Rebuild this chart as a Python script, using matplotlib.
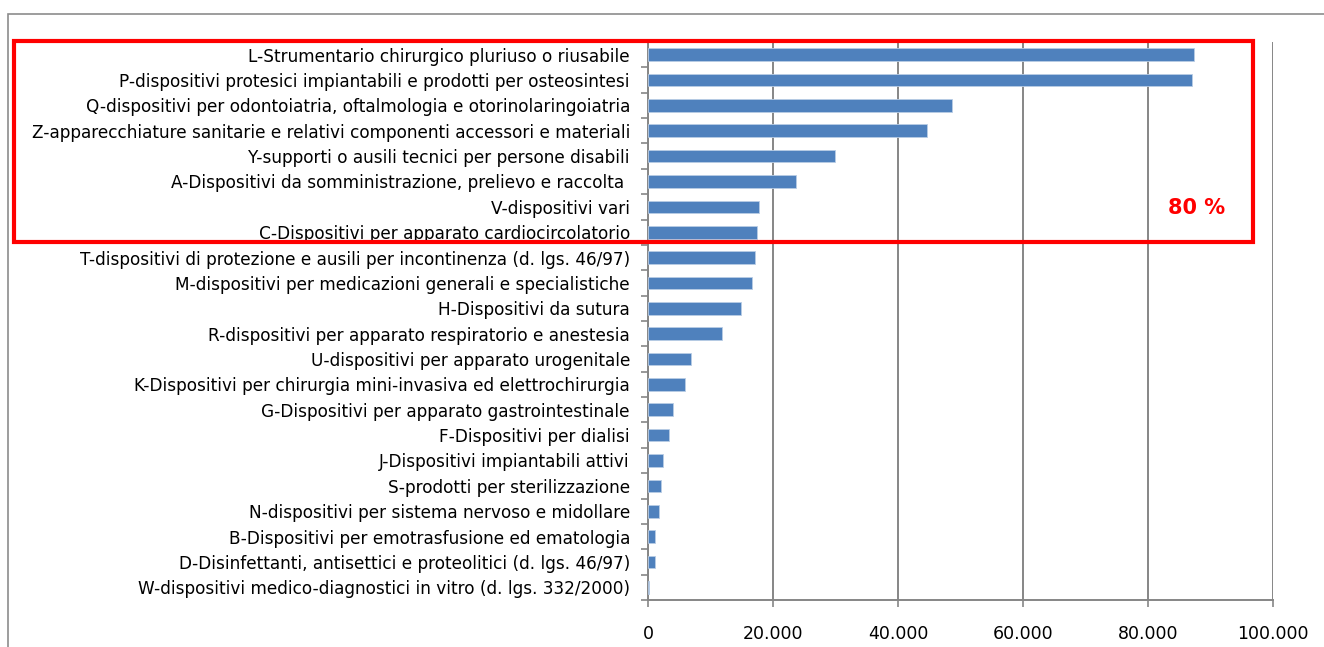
import matplotlib
matplotlib.use("Agg")
import matplotlib.pyplot as plt
from matplotlib.patches import Rectangle
from matplotlib.ticker import FuncFormatter, FixedLocator
import numpy as np

categories = [
    "L-Strumentario chirurgico pluriuso o riusabile",
    "P-dispositivi protesici impiantabili e prodotti per osteosintesi",
    "Q-dispositivi per odontoiatria, oftalmologia e otorinolaringoiatria",
    "Z-apparecchiature sanitarie e relativi componenti accessori e materiali",
    "Y-supporti o ausili tecnici per persone disabili",
    "A-Dispositivi da somministrazione, prelievo e raccolta ",
    "V-dispositivi vari",
    "C-Dispositivi per apparato cardiocircolatorio",
    "T-dispositivi di protezione e ausili per incontinenza (d. lgs. 46/97)",
    "M-dispositivi per medicazioni generali e specialistiche",
    "H-Dispositivi da sutura",
    "R-dispositivi per apparato respiratorio e anestesia",
    "U-dispositivi per apparato urogenitale",
    "K-Dispositivi per chirurgia mini-invasiva ed elettrochirurgia",
    "G-Dispositivi per apparato gastrointestinale",
    "F-Dispositivi per dialisi",
    "J-Dispositivi impiantabili attivi",
    "S-prodotti per sterilizzazione",
    "N-dispositivi per sistema nervoso e midollare",
    "B-Dispositivi per emotrasfusione ed ematologia",
    "D-Disinfettanti, antisettici e proteolitici (d. lgs. 46/97)",
    "W-dispositivi medico-diagnostici in vitro (d. lgs. 332/2000)",
]
values = [87300, 87000, 48600, 44700, 29900, 23600, 17800, 17500, 17100, 16600,
          14800, 11900, 6800, 5900, 4000, 3400, 2400, 2100, 1800, 1100, 1100, 100]
x_ticks = [0, 20000, 40000, 60000, 80000, 100000]
highlight_label = "80 %"

W, H = 1324, 647
plt.rcParams['font.family'] = ['DejaVu Sans']
fig = plt.figure(figsize=(W / 100, H / 100), dpi=100)

# outer chart frame
fig.patches.append(Rectangle((8 / W, -0.1), 2.0, (H - 14) / H + 0.1, transform=fig.transFigure,
                             fill=False, edgecolor='#8c8c8c', linewidth=1.2))

ax = fig.add_axes([648 / W, 1 - 600 / H, (1273 - 648) / W, (600 - 42) / H])
y = np.arange(len(categories))
ax.barh(y, values, height=0.5, color='#4F81BD', edgecolor='#B9CDE5', linewidth=0.6, zorder=3)
ax.set_ylim(len(categories) - 0.5, -0.5)
ax.set_xlim(0, 100000)
ax.set_yticks(y)
ax.set_yticklabels(categories, fontsize=12.2)
ax.yaxis.set_minor_locator(FixedLocator(np.arange(len(categories) + 1) - 0.5))
ax.tick_params(axis='y', which='major', length=0, pad=13)
ax.tick_params(axis='y', which='minor', length=5, color='#868686', width=1.2)
ax.set_xticks(x_ticks)
ax.xaxis.set_major_formatter(FuncFormatter(lambda v, p: f"{int(v):,}".replace(",", ".")))
ax.tick_params(axis='x', which='major', length=5, color='#868686', width=1.2, pad=13, labelsize=12.5)
ax.grid(axis='x', color='#868686', linewidth=1.4, zorder=0)
for s in ['top', 'right']:
    ax.spines[s].set_visible(False)
for s in ['left', 'bottom']:
    ax.spines[s].set_color('#868686')
    ax.spines[s].set_linewidth(1.4)
ax.set_axisbelow(True)

# red highlight box
fig.patches.append(Rectangle((14 / W, 1 - 242 / H), (1253 - 14) / W, (242 - 41) / H,
                             transform=fig.transFigure, fill=False, edgecolor='#FF0000',
                             linewidth=3, zorder=10))
fig.text(1197 / W, 1 - 208 / H, highlight_label, color='#FF0000', fontsize=15, fontweight='bold',
         ha='center', va='center')

fig.savefig("out.png", dpi=100)
